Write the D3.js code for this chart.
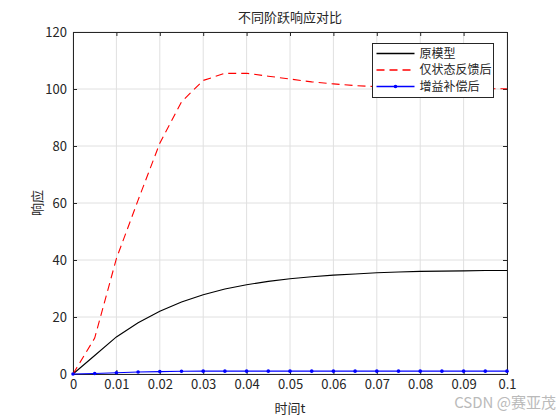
<!DOCTYPE html>
<html><head><meta charset="utf-8">
<script src="https://cdn.jsdelivr.net/npm/d3@7"></script>
<style>body{margin:0;background:#fff}text{font-family:"Noto Sans CJK SC","Liberation Sans",sans-serif}</style>
</head><body><div id="viz"></div>
<script>
const times = d3.range(0, 21).map(i => i * 0.005);
const original = [0, 6.5, 13, 18, 22, 25.3, 27.8, 29.8, 31.3, 32.5, 33.4, 34.1, 34.7, 35.1, 35.5, 35.8, 36.0, 36.1, 36.2, 36.3, 36.3];
const stateFeedback = [0, 12.6, 40.5, 61, 81, 95.5, 103, 105.5, 105.5, 104.5, 103.5, 102.5, 101.8, 101.2, 100.8, 100.5, 100.3, 100.2, 100.1, 100.1, 100.1];
const gainComp = [0, 0.15, 0.45, 0.7, 0.85, 0.95, 1, 1, 1, 1, 1, 1, 1, 1, 1, 1, 1, 1, 1, 1, 1];
const xTicks = [0, 0.01, 0.02, 0.03, 0.04, 0.05, 0.06, 0.07, 0.08, 0.09, 0.1];
const yTicks = [0, 20, 40, 60, 80, 100, 120];
const series = [
  { label: '原模型', values: original, color: '#000', dash: null, marker: false },
  { label: '仅状态反馈后', values: stateFeedback, color: '#ff0000', dash: '8,5', marker: false },
  { label: '增益补偿后', values: gainComp, color: '#0000ff', dash: null, marker: true },
];

const width = 560, height = 420;
const margin = { top: 32, right: 53, bottom: 46, left: 73 };
const svg = d3.select('#viz').append('svg').attr('width', width).attr('height', height);
const x = d3.scaleLinear().domain([0, 0.1]).range([margin.left, width - margin.right]);
const y = d3.scaleLinear().domain([0, 120]).range([height - margin.bottom, margin.top]);

// grid
svg.append('g').selectAll('line').data(xTicks).join('line')
  .attr('x1', d => x(d)).attr('x2', d => x(d)).attr('y1', y(0)).attr('y2', y(120))
  .attr('stroke', '#e0e0e0');
svg.append('g').selectAll('line').data(yTicks).join('line')
  .attr('y1', d => y(d)).attr('y2', d => y(d)).attr('x1', x(0)).attr('x2', x(0.1))
  .attr('stroke', '#e0e0e0');

svg.append('g').attr('transform', `translate(0,${y(0)})`)
  .call(d3.axisBottom(x).tickValues(xTicks).tickSize(-4).tickPadding(6).tickFormat(d => d === 0 ? '0' : String(+d.toFixed(2))));
svg.append('g').attr('transform', `translate(${x(0)},0)`)
  .call(d3.axisLeft(y).tickValues(yTicks).tickSize(-4).tickPadding(6));
svg.append('g').attr('transform', `translate(0,${y(120)})`).call(d3.axisTop(x).tickValues(xTicks).tickSize(-4).tickFormat(''));
svg.append('g').attr('transform', `translate(${x(0.1)},0)`).call(d3.axisRight(y).tickValues(yTicks).tickSize(-4).tickFormat(''));
svg.selectAll('.domain').attr('stroke', '#262626');
svg.selectAll('.tick line').attr('stroke', '#262626');
svg.selectAll('.tick text').attr('font-size', 13).attr('fill', '#262626').attr('font-family', 'Liberation Sans');

const line = vals => d3.line().x((d, i) => x(times[i])).y(d => y(d))(vals);
series.forEach(s => {
  svg.append('path').attr('d', line(s.values)).attr('fill', 'none')
    .attr('stroke', s.color).attr('stroke-width', 1.1).attr('stroke-dasharray', s.dash);
  if (s.marker) {
    svg.append('g').selectAll('circle').data(s.values).join('circle')
      .attr('cx', (d, i) => x(times[i])).attr('cy', d => y(d)).attr('r', 1.8).attr('fill', s.color);
  }
});

// titles
svg.append('text').attr('x', (x(0) + x(0.1)) / 2).attr('y', 22).attr('text-anchor', 'middle')
  .attr('font-size', 13).attr('fill', '#262626').text('不同阶跃响应对比');
svg.append('text').attr('x', (x(0) + x(0.1)) / 2).attr('y', 413).attr('text-anchor', 'middle')
  .attr('font-size', 13).attr('fill', '#262626').text('时间t');
svg.append('text').attr('transform', `translate(42,${(y(0) + y(120)) / 2}) rotate(-90)`).attr('text-anchor', 'middle')
  .attr('font-size', 13).attr('fill', '#262626').text('响应');

// legend
const lg = svg.append('g').attr('transform', 'translate(372.5,43.5)');
lg.append('rect').attr('width', 121).attr('height', 54).attr('fill', '#fff').attr('stroke', '#262626');
series.forEach((s, i) => {
  const g = lg.append('g').attr('transform', `translate(0,${10 + i * 16.5})`);
  g.append('line').attr('x1', 4).attr('x2', 42).attr('stroke', s.color).attr('stroke-width', 1.3)
    .attr('stroke-dasharray', s.dash);
  if (s.marker) g.append('circle').attr('cx', 23).attr('r', 1.8).attr('fill', s.color);
  g.append('text').attr('x', 47).attr('y', 4).attr('font-size', 12).attr('fill', '#262626').text(s.label);
});

svg.append('text').attr('x', 556).attr('y', 408).attr('text-anchor', 'end')
  .attr('font-size', 15).attr('fill', '#aaa').attr('opacity', 0.8).text('CSDN @赛亚茂');
</script></body></html>
